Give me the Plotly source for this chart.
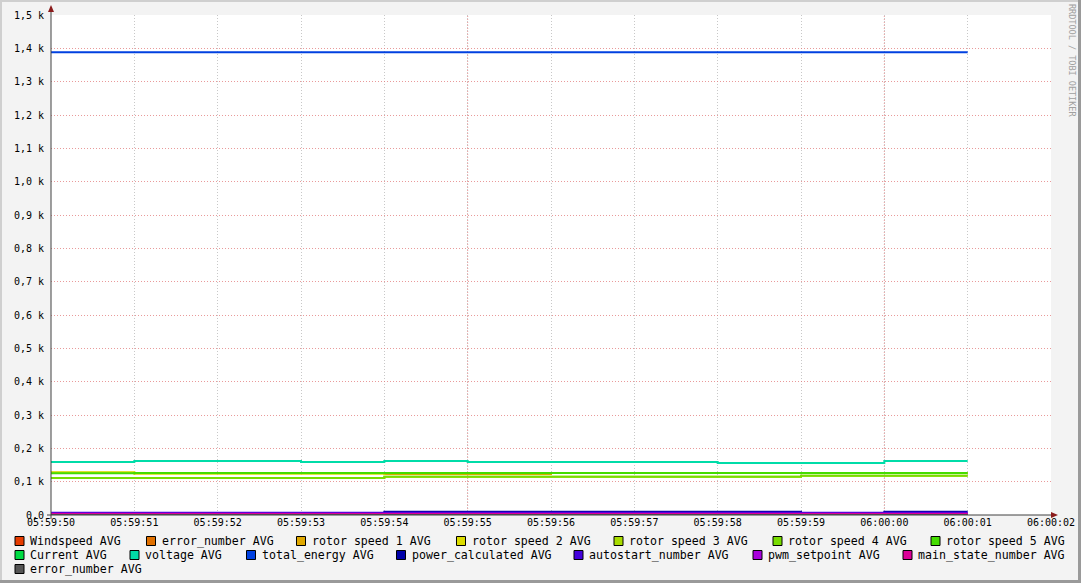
import plotly.graph_objects as go

# ---------------- data ----------------
tick_labels = ["05:59:50", "05:59:51", "05:59:52", "05:59:53", "05:59:54", "05:59:55",
               "05:59:56", "05:59:57", "05:59:58", "05:59:59", "06:00:00", "06:00:01",
               "06:00:02"]
y_tick_values = [0, 100, 200, 300, 400, 500, 600, 700, 800, 900, 1000, 1100, 1200, 1300, 1400, 1500]
y_tick_labels = ["0,0", "0,1 k", "0,2 k", "0,3 k", "0,4 k", "0,5 k", "0,6 k", "0,7 k", "0,8 k",
                 "0,9 k", "1,0 k", "1,1 k", "1,2 k", "1,3 k", "1,4 k", "1,5 k"]

series_names = ["Windspeed", "error_number", "rotor speed 1", "rotor speed 2", "rotor speed 3",
                "rotor speed 4", "rotor speed 5", "Current", "voltage", "total_energy",
                "power_calculated", "autostart_number", "pwm_setpoint", "main_state_number",
                "error_number"]
series_colors = ["#e63c00", "#e07000", "#e0a800", "#dcdc00", "#a8dc00", "#78dc00", "#44dc00",
                 "#00dc44", "#00dca8", "#0040e0", "#0000a8", "#4400dc", "#a800dc", "#dc0098",
                 "#555555"]

# one value per one-second interval, 05:59:50 -> 06:00:01
windspeed         = [3, 3, 3, 3, 3, 3, 3, 3, 3, 3, 3]
error_number_1    = [0, 0, 0, 0, 0, 0, 0, 0, 0, 0, 0]
rotor_speed_1     = [127, 126, 126, 126, 123, 123, 126, 126, 126, 126, 126]
rotor_speed_2     = [128, 124, 124, 124, 126, 126, 126, 126, 126, 126, 126]
rotor_speed_3     = [111, 111, 111, 111, 115, 115, 115, 115, 115, 118, 118]
rotor_speed_4     = [111, 111, 111, 111, 115, 115, 115, 115, 115, 118, 118]
rotor_speed_5     = [125, 126, 126, 126, 126, 126, 126, 126, 126, 126, 126]
current           = [2, 2, 2, 2, 2, 2, 2, 2, 2, 2, 2]
voltage           = [159, 162, 162, 159, 162, 159, 159, 159, 156, 156, 162]
total_energy      = [1388, 1388, 1388, 1388, 1388, 1388, 1388, 1388, 1388, 1388, 1388]
power_calculated  = [6, 6, 6, 6, 10, 10, 10, 10, 10, 6, 10]
autostart_number  = [7, 7, 7, 7, 7, 7, 7, 7, 7, 7, 7]
pwm_setpoint      = [4, 4, 4, 4, 4, 4, 4, 4, 4, 4, 4]
main_state_number = [3, 3, 3, 3, 3, 3, 3, 3, 3, 3, 3]
error_number_2    = [0, 0, 0, 0, 0, 0, 0, 0, 0, 0, 0]

series_values = [windspeed, error_number_1, rotor_speed_1, rotor_speed_2, rotor_speed_3,
                 rotor_speed_4, rotor_speed_5, current, voltage, total_energy,
                 power_calculated, autostart_number, pwm_setpoint, main_state_number,
                 error_number_2]

# ---------------- layout helpers ----------------
W, H = 1081, 583
PL, PT, PW, PH = 51, 15, 1000, 500  # plot area in pixels


def fx(p):
    return (p - PL) / PW


def fy(p):
    return (PT + PH - p) / PH


MONO = "DejaVu Sans Mono"

fig = go.Figure()
n = len(tick_labels) - 1
for name, color, vals in zip(series_names, series_colors, series_values):
    xs = list(range(len(vals) + 1))
    ys = list(vals) + [vals[-1]]
    fig.add_trace(go.Scatter(x=xs, y=ys, mode="lines", name=name + " AVG",
                             line=dict(color=color, width=2, shape="hv"),
                             showlegend=False, hoverinfo="skip"))

shapes = []
red_grid = "rgba(225,120,120,0.75)"
# major (red) vertical grid lines every 5 s
for i in (5, 10):
    shapes.append(dict(type="line", xref="x", yref="paper", x0=i, x1=i, y0=0, y1=1,
                       line=dict(color=red_grid, width=1, dash="1px,2px"), layer="below"))

axis_col = "#404040"
arrow_col = "#8b1c1c"
# y axis line + arrow
shapes.append(dict(type="line", xref="paper", yref="paper", x0=fx(51), x1=fx(51),
                   y0=fy(519), y1=fy(9), line=dict(color=axis_col, width=1)))
shapes.append(dict(type="path", xref="paper", yref="paper",
                   path=f"M {fx(51)} {fy(5)} L {fx(48)} {fy(12)} L {fx(54)} {fy(12)} Z",
                   fillcolor=arrow_col, line=dict(color=arrow_col, width=0)))
# x axis line + arrow
shapes.append(dict(type="line", xref="paper", yref="paper", x0=fx(47), x1=fx(1054),
                   y0=fy(515), y1=fy(515), line=dict(color=axis_col, width=1)))
shapes.append(dict(type="path", xref="paper", yref="paper",
                   path=f"M {fx(1058)} {fy(515)} L {fx(1051)} {fy(512)} L {fx(1051)} {fy(518)} Z",
                   fillcolor=arrow_col, line=dict(color=arrow_col, width=0)))

# image frame
shapes.append(dict(type="rect", xref="paper", yref="paper", x0=fx(0), x1=fx(W), y0=fy(0), y1=fy(2),
                   fillcolor="#cfcfcf", line=dict(width=0)))
shapes.append(dict(type="rect", xref="paper", yref="paper", x0=fx(0), x1=fx(2), y0=fy(0), y1=fy(H),
                   fillcolor="#cfcfcf", line=dict(width=0)))
shapes.append(dict(type="rect", xref="paper", yref="paper", x0=fx(W - 3), x1=fx(W), y0=fy(0), y1=fy(H),
                   fillcolor="#9a9a9a", line=dict(width=0)))
shapes.append(dict(type="rect", xref="paper", yref="paper", x0=fx(0), x1=fx(W), y0=fy(H - 3), y1=fy(H),
                   fillcolor="#9a9a9a", line=dict(width=0)))

# ---------------- manual legend ----------------
legend_pos = [(15, 541), (146.5, 541), (296.5, 541), (456.5, 541), (614, 541), (773, 541), (931, 541),
              (15, 555), (130, 555), (246.5, 555), (396.5, 555), (574, 555), (753, 555), (903, 555),
              (15, 569)]
annotations = []
for (lx, ly), name, color in zip(legend_pos, series_names, series_colors):
    shapes.append(dict(type="rect", xref="paper", yref="paper",
                       x0=fx(lx), x1=fx(lx + 9), y0=fy(ly - 4.5), y1=fy(ly + 4.5),
                       fillcolor=color, line=dict(color="#000000", width=1)))
    annotations.append(dict(xref="paper", yref="paper", x=fx(lx + 14), y=fy(ly),
                            xanchor="left", yanchor="middle", showarrow=False,
                            text=name + " AVG", font=dict(family=MONO, size=11.6, color="#000000"),
                            borderpad=0))

annotations.append(dict(xref="paper", yref="paper", x=fx(1072), y=fy(60),
                        xanchor="center", yanchor="middle", showarrow=False, textangle=90,
                        text="RRDTOOL / TOBI OETIKER",
                        font=dict(family=MONO, size=8.5, color="#a0a0a0")))

fig.update_layout(
    width=W, height=H,
    margin=dict(l=PL, r=W - PL - PW, t=PT, b=H - PT - PH, pad=0),
    paper_bgcolor="#f3f3f3", plot_bgcolor="#ffffff",
    shapes=shapes, annotations=annotations,
    xaxis=dict(range=[0, n], tickvals=list(range(len(tick_labels))), ticktext=tick_labels,
               showgrid=True, gridcolor="#c8c8c8", griddash="1px,2px", gridwidth=1,
               zeroline=False, showline=False, ticks="", automargin=False,
               tickfont=dict(family=MONO, size=10, color="#000000")),
    yaxis=dict(range=[0, 1500], tickvals=y_tick_values, ticktext=y_tick_labels,
               showgrid=True, gridcolor=red_grid, griddash="1px,2px", gridwidth=1,
               zeroline=False, showline=False, ticks="", ticklabelstandoff=6, automargin=False,
               tickfont=dict(family=MONO, size=10, color="#000000")),
    showlegend=False,
)

fig.write_html(
    "out.html",
    config={"displayModeBar": False, "staticPlot": True},
    post_script=("document.documentElement.style.margin='0';"
                 "document.documentElement.style.overflow='hidden';"
                 "document.body.style.margin='0';document.body.style.padding='0';"
                 "document.body.style.overflow='hidden';"),
)
